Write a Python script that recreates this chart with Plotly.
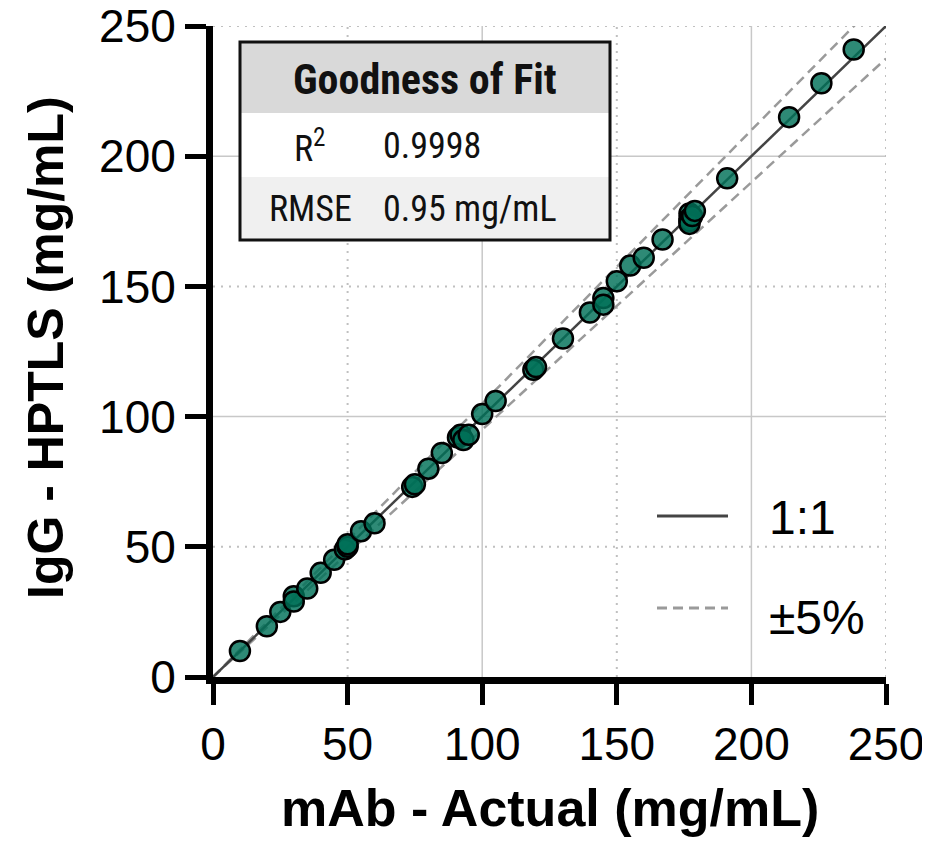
import plotly.graph_objects as go

# ---- data ----
actual = [10, 20, 25, 30, 30, 35, 40, 45, 49, 50, 50, 55, 60, 74, 75, 80, 85, 91, 92, 93,
          95, 100, 105, 119, 120, 130, 140, 145, 145, 150, 155, 160, 167, 177, 177, 177,
          177, 178, 179, 191, 214, 226, 238]
hptls = [10, 19.5, 25, 31, 29, 34, 40, 45, 49, 50, 51, 56, 59, 73, 74, 80, 86, 92, 93, 91,
         93, 101, 106, 118, 119, 130, 140, 145.5, 143, 152, 158, 161, 168, 178, 176, 175,
         174, 177, 179, 191.5, 215, 228, 241]
axis_range = [0, 250]
tick_vals = [0, 50, 100, 150, 200, 250]
grid_solid = [100, 200]
grid_dotted = [50, 150, 250]
band = 0.05
fit_rows = [("R<sup>2</sup>", "0.9998"), ("RMSE", "0.95 mg/mL")]
table_title = "Goodness of Fit"
legend_labels = ["1:1", "±5%"]
x_title = "mAb - Actual (mg/mL)"
y_title = "IgG - HPTLS (mg/mL)"

FONT = "Liberation Sans, Arial, sans-serif"
TFONT = "Roboto Condensed, Liberation Sans Narrow, Roboto, sans-serif"

# the page body has an 8px default margin
OFF = 8
FW, FH = 930 - OFF, 842 - OFF

fig = go.Figure()
lx = axis_range
fig.add_trace(go.Scatter(x=lx, y=[v * (1 + band) for v in lx], mode="lines",
                         line=dict(color="#9a9a9a", width=2.5, dash="10px,6px"),
                         showlegend=False, hoverinfo="skip"))
fig.add_trace(go.Scatter(x=lx, y=[v * (1 - band) for v in lx], mode="lines",
                         line=dict(color="#9a9a9a", width=2.5, dash="10px,6px"),
                         showlegend=False, hoverinfo="skip"))
fig.add_trace(go.Scatter(x=lx, y=lx, mode="lines",
                         line=dict(color="#444444", width=2.5),
                         showlegend=False, hoverinfo="skip"))
fig.add_trace(go.Scatter(x=actual, y=hptls, mode="markers",
                         marker=dict(size=20, color="rgba(0,112,88,0.82)",
                                     line=dict(color="black", width=2.5)),
                         cliponaxis=False, showlegend=False))

shapes = []
for g in grid_solid:
    shapes.append(dict(type="line", xref="x", yref="paper", x0=g, x1=g, y0=0, y1=1,
                       line=dict(color="#c8c8c8", width=1.5), layer="below"))
    shapes.append(dict(type="line", xref="paper", yref="y", x0=0, x1=1, y0=g, y1=g,
                       line=dict(color="#c8c8c8", width=1.5), layer="below"))
for g in grid_dotted:
    shapes.append(dict(type="line", xref="x", yref="paper", x0=g, x1=g, y0=0, y1=1,
                       line=dict(color="#c0c0c0", width=2, dash="2px,6px"), layer="below"))
    shapes.append(dict(type="line", xref="paper", yref="y", x0=0, x1=1, y0=g, y1=g,
                       line=dict(color="#c0c0c0", width=2, dash="2px,6px"), layer="below"))

# layout helpers (target page pixel -> paper)
L, W, T, H = 213, 673, 26, 651
def px(xp):
    return (xp - L) / W
def py(yp):
    return (T + H - yp) / H

tx0, tx1 = px(240), px(610)
rows_y = [42, 113, 177, 240]
fills = ["#d9d9d9", "#ffffff", "#f0f0f0"]
for i in range(3):
    shapes.append(dict(type="rect", xref="paper", yref="paper", x0=tx0, x1=tx1,
                       y0=py(rows_y[i + 1]), y1=py(rows_y[i]), fillcolor=fills[i],
                       line=dict(width=0), layer="above"))
shapes.append(dict(type="rect", xref="paper", yref="paper", x0=tx0, x1=tx1,
                   y0=py(rows_y[3]), y1=py(rows_y[0]), fillcolor="rgba(0,0,0,0)",
                   line=dict(color="#111111", width=3), layer="above"))

# legend samples
shapes.append(dict(type="line", xref="paper", yref="paper", x0=px(657), x1=px(728),
                   y0=py(516), y1=py(516), line=dict(color="#444444", width=3), layer="above"))
shapes.append(dict(type="line", xref="paper", yref="paper", x0=px(657), x1=px(728),
                   y0=py(608), y1=py(608), line=dict(color="#9a9a9a", width=3, dash="10px,6px"),
                   layer="above"))

annotations = [
    dict(text=f"<b>{table_title}</b>", xref="paper", yref="paper", x=px(425), y=py(79),
         showarrow=False, font=dict(family=TFONT, size=42, color="#111111"),
         xanchor="center", yanchor="middle"),
]
row_centers = [146, 209]
for (lab, val), yc in zip(fit_rows, row_centers):
    annotations.append(dict(text=lab, xref="paper", yref="paper", x=px(310), y=py(yc),
                            showarrow=False, font=dict(family=TFONT, size=36, color="#111111"),
                            xanchor="center", yanchor="middle"))
    annotations.append(dict(text=val, xref="paper", yref="paper", x=px(381), y=py(yc),
                            showarrow=False, font=dict(family=TFONT, size=36, color="#111111"),
                            xanchor="left", yanchor="middle"))
for lab, yc in zip(legend_labels, [517, 617]):
    annotations.append(dict(text=lab, xref="paper", yref="paper", x=px(767), y=py(yc),
                            showarrow=False, font=dict(family=FONT, size=48, color="black"),
                            xanchor="left", yanchor="middle"))
# axis titles
annotations.append(dict(text=f"<b>{x_title}</b>", xref="paper", yref="paper",
                        x=px(550), y=py(808), showarrow=False,
                        font=dict(family=FONT, size=52, color="black"),
                        xanchor="center", yanchor="middle"))
annotations.append(dict(text=f"<b>{y_title}</b>", xref="paper", yref="paper",
                        x=px(46), y=py(348), showarrow=False, textangle=-90,
                        font=dict(family=FONT, size=50, color="black"),
                        xanchor="center", yanchor="middle"))

axis_common = dict(range=axis_range, tickvals=tick_vals, showgrid=False, zeroline=False,
                   showline=True, linecolor="black", linewidth=7, automargin=False,
                   ticklabeloverflow="allow",
                   ticks="outside", ticklen=21, tickwidth=5, tickcolor="black",
                   tickfont=dict(family=FONT, size=46, color="black"))

fig.update_layout(
    width=FW, height=FH,
    margin=dict(l=L - OFF, r=930 - L - W, t=T - OFF, b=842 - T - H),
    plot_bgcolor="white", paper_bgcolor="white",
    xaxis=dict(**axis_common),
    yaxis=dict(**axis_common),
    shapes=shapes, annotations=annotations, showlegend=False,
)
fig.write_html("out.html")
